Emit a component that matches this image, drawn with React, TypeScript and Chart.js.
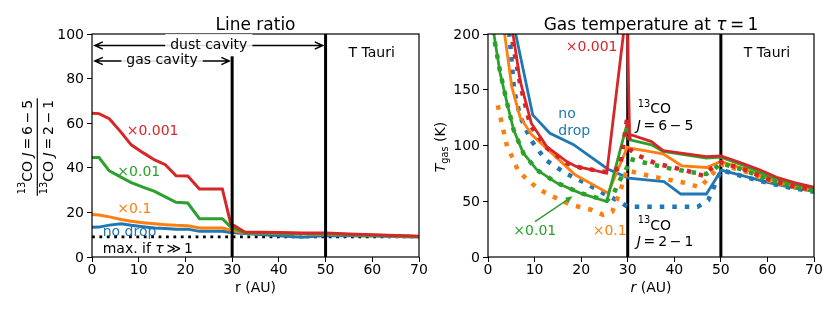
import React, { useEffect, useRef } from 'react';
import { Chart, registerables } from 'chart.js';

Chart.register(...registerables);

const FONT = "'DejaVu Sans', sans-serif";
const BLUE = '#1f77b4';
const ORANGE = '#ff7f0e';
const GREEN = '#2ca02c';
const RED = '#d62728';

// ---------- Left panel: line ratio 13CO 6-5 / 2-1 ----------
const ratioR = [0, 1.5, 3.7, 6.2, 8.4, 10.9, 13.4, 15.7, 18, 20.5, 23, 27.9, 29.7, 32.7, 40, 45, 50, 55, 60, 65, 70];
const ratioNoDrop = [13.3, 13.4, 14.3, 14.9, 14.2, 13.6, 13.0, 12.8, 12.5, 12.5, 11.5, 11.5, 11.0, 10.5, 9.5, 8.9, 9.6, 9.5, 9.4, 9.2, 9.0];
const ratioX01 = [19.1, 18.8, 18.0, 16.8, 16.0, 15.4, 14.9, 14.5, 14.2, 14.0, 13.0, 13.0, 12.0, 10.9, 10.5, 10.3, 10.2, 10.0, 9.7, 9.4, 9.2];
const ratioX001 = [44.6, 44.6, 38.6, 35.8, 33.4, 31.3, 29.4, 27.0, 24.5, 24.2, 17.2, 17.2, 13.5, 10.9, 10.6, 10.5, 10.4, 10.1, 9.8, 9.5, 9.2];
const ratioX0001 = [64.5, 64.3, 62.0, 56.0, 50.3, 46.8, 43.5, 41.4, 36.4, 36.3, 30.5, 30.5, 15.0, 11.2, 11.0, 10.8, 10.8, 10.3, 10.0, 9.6, 9.3];
const maxThickR = [0, 70];
const maxThick = [9, 9];

// ---------- Right panel: gas temperature at tau = 1 ----------
// solid: 13CO J=6-5, dotted: 13CO J=2-1
const t65NoDropR = [4.5, 6.0, 9.6, 13.3, 18.3, 25.7, 30.2, 37.8, 41.4, 46.9, 50.1, 55, 60, 65, 70];
const t65NoDrop = [300, 199, 127.5, 111, 101, 79, 70.8, 67.7, 56.5, 56.5, 78, 72.5, 67, 62.5, 58.8];
const t65X01R = [2.8, 3.6, 5.1, 6.9, 9.4, 14.1, 18.7, 25.8, 29.9, 30.5, 37.6, 41.6, 46.9, 50, 55, 60, 65, 70];
const t65X01 = [260, 199, 152.8, 125.4, 109.5, 91.6, 73.7, 57.3, 98.5, 97.6, 92.5, 81.8, 80.3, 85.6, 79, 70.5, 64.5, 60.5];
const t65X001R = [0.9, 1.3, 2.6, 4.1, 5.5, 7.6, 10.5, 14.8, 19.8, 25.5, 29.8, 30.5, 35.1, 37.6, 46.9, 50, 55, 60, 65, 70];
const t65X001 = [260, 199, 165, 137.9, 114, 93.1, 78.2, 66.3, 57.3, 49.8, 118.5, 105, 100.6, 94.6, 88.7, 89.5, 82, 73, 66, 61.5];
const t65X0001R = [4.6, 5.4, 6.9, 9.3, 12.6, 16.9, 18.9, 25.5, 29.8, 30.4, 35.1, 37.6, 46.9, 50, 54, 58.3, 62, 66, 70];
const t65X0001 = [260, 199, 158, 120, 99, 85.6, 81.2, 75.2, 225, 110, 103.5, 95.5, 90, 90.7, 85, 78.2, 71.5, 66.5, 62.5];

const t21NoDropR = [3.8, 4.6, 5.6, 6.9, 9.2, 12.4, 16.7, 21, 25.3, 28.1, 30, 45, 47.3, 50.1, 55, 60, 65, 70];
const t21NoDrop = [280, 199, 149.8, 126, 105, 87, 75, 66, 56, 50, 45, 45, 51, 78, 72, 66.5, 62, 58.5];
const t21X01R = [2.1, 4.1, 5.5, 6.5, 8.5, 10.6, 13.1, 17.8, 22.1, 24.7, 26.7, 28.5, 29.8, 30.5, 35.5, 42.6, 45.5, 48.3, 50, 55, 60, 65, 70];
const t21X01 = [136, 99, 87, 77, 69.2, 61.8, 55.8, 46.8, 42.4, 37.9, 40.8, 60.3, 78, 77, 72, 66.3, 62.5, 75, 83, 77, 69, 63.5, 59.5];
const t21X001R = [0.8, 1.2, 2.6, 4.1, 5.5, 7.6, 10.5, 14.8, 19.8, 25.5, 27, 28, 29.8, 30.5, 31.9, 35.5, 39, 43.7, 46.9, 48.5, 50, 55, 60, 65, 70];
const t21X001 = [260, 199, 166, 138, 114, 93, 78, 66.5, 57.5, 50.5, 57, 66.5, 80, 88, 86.3, 82.7, 79.5, 76, 74.5, 78.5, 84, 78, 69.5, 63.5, 59.5];
const t21X0001R = [4.2, 5.0, 6.9, 9.1, 12.6, 16.9, 20, 25.5, 28.3, 29.9, 30.6, 32, 36, 40, 43, 46.2, 48.7, 50, 55, 60, 65, 70];
const t21X0001 = [260, 199, 155, 118, 98, 84, 80, 76, 79.7, 125, 96, 91.5, 84, 80, 77, 73, 82, 85, 78.5, 70, 64, 60];

const xTicksStep = 10;

// ---------- text helpers ----------
type Seg = { t: string; it?: boolean; sup?: boolean; sub?: boolean };

function segFont(size: number, s: Seg) {
  const sz = s.sup || s.sub ? size * 0.7 : size;
  return `${s.it ? 'italic ' : ''}${sz}px ${FONT}`;
}
function measureRich(ctx: CanvasRenderingContext2D, segs: Seg[], size: number) {
  let w = 0;
  for (const s of segs) {
    ctx.font = segFont(size, s);
    w += ctx.measureText(s.t).width;
  }
  return w;
}
function drawRich(
  ctx: CanvasRenderingContext2D,
  segs: Seg[],
  x: number,
  y: number,
  size: number,
  color: string,
  align: 'left' | 'center' = 'left'
) {
  const w = measureRich(ctx, segs, size);
  let cx = align === 'center' ? x - w / 2 : x;
  ctx.fillStyle = color;
  ctx.textAlign = 'left';
  ctx.textBaseline = 'alphabetic';
  for (const s of segs) {
    ctx.font = segFont(size, s);
    const dy = s.sup ? -0.47 * size : s.sub ? 0.22 * size : 0;
    ctx.fillText(s.t, cx, y + dy);
    cx += ctx.measureText(s.t).width;
  }
  return w;
}
const T = (t: string): Seg => ({ t });
const I = (t: string): Seg => ({ t, it: true });
const SUP = (t: string): Seg => ({ t, sup: true });
const SUB = (t: string): Seg => ({ t, sub: true });
const TH = '\u2009';

function pts(xs: number[], ys: number[]) {
  return xs.map((x, i) => ({ x, y: ys[i] }));
}
function solid(xs: number[], ys: number[], color: string, order: number, width = 2.8) {
  return {
    data: pts(xs, ys),
    borderColor: color,
    borderWidth: width,
    pointRadius: 0,
    tension: 0,
    fill: false,
    clip: 0,
    order,
  };
}
function dotted(xs: number[], ys: number[], color: string, order: number, width = 4.5, dash = [4.5, 8]) {
  return { ...solid(xs, ys, color, order, width), borderDash: dash, borderCapStyle: 'butt' };
}

function scaleCfg(min: number, max: number, step: number, isY: boolean, size: number) {
  return {
    type: 'linear',
    min,
    max,
    ticks: {
      stepSize: step,
      color: '#000',
      font: { family: FONT, size: 14 },
      padding: isY ? 3 : 0,
      maxRotation: 0,
      autoSkip: false,
      labelOffset: isY ? 1 : 0,
    },
    grid: {
      display: true,
      drawOnChartArea: false,
      drawTicks: true,
      tickLength: 5,
      tickWidth: 1,
      tickColor: '#000',
    },
    border: { display: false },
    afterFit: (s: any) => {
      if (isY) s.width = size;
      else s.height = size;
    },
  };
}

function drawSpines(ctx: CanvasRenderingContext2D, a: any) {
  ctx.save();
  ctx.strokeStyle = '#000';
  ctx.lineWidth = 1.2;
  ctx.strokeRect(a.left, a.top, a.right - a.left, a.bottom - a.top);
  ctx.restore();
}

function vline(chart: any, xv: number, y0: number, y1: number) {
  const { ctx, scales } = chart;
  const x = scales.x.getPixelForValue(xv);
  ctx.save();
  ctx.strokeStyle = '#000';
  ctx.lineWidth = 3;
  ctx.beginPath();
  ctx.moveTo(x, scales.y.getPixelForValue(y0));
  ctx.lineTo(x, scales.y.getPixelForValue(y1));
  ctx.stroke();
  ctx.restore();
}

function doubleArrow(ctx: CanvasRenderingContext2D, x1: number, x2: number, y: number) {
  const hl = 8;
  const hw = 3.6;
  ctx.save();
  ctx.strokeStyle = '#000';
  ctx.lineWidth = 1.4;
  ctx.beginPath();
  ctx.moveTo(x1, y);
  ctx.lineTo(x2, y);
  ctx.moveTo(x1 + hl, y - hw);
  ctx.lineTo(x1, y);
  ctx.lineTo(x1 + hl, y + hw);
  ctx.moveTo(x2 - hl, y - hw);
  ctx.lineTo(x2, y);
  ctx.lineTo(x2 - hl, y + hw);
  ctx.stroke();
  ctx.restore();
}

function boxedText(ctx: CanvasRenderingContext2D, text: string, cx: number, base: number, top: number, bottom: number) {
  ctx.save();
  ctx.font = `14px ${FONT}`;
  const w = ctx.measureText(text).width;
  ctx.fillStyle = 'rgba(255,255,255,0.85)';
  ctx.fillRect(cx - w / 2 - 5, top, w + 10, bottom - top);
  ctx.restore();
  drawRich(ctx, [T(text)], cx, base, 14, '#000', 'center');
}

// ---------- left chart ----------
function leftConfig(): any {
  const deco = {
    id: 'decoLeft',
    beforeDatasetsDraw(chart: any) {
      const ctx = chart.ctx as CanvasRenderingContext2D;
      ctx.save();
      drawRich(ctx, [T('×0.001')], 126.7, 135, 14, RED);
      drawRich(ctx, [T('×0.01')], 117.3, 175.7, 14, GREEN);
      drawRich(ctx, [T('×0.1')], 117.3, 213.3, 14, ORANGE);
      drawRich(ctx, [T('no drop')], 102.7, 236, 14, BLUE);
      drawRich(ctx, [T('max. if '), I('τ'), T(TH + '≫' + TH + '1')], 102.7, 252.5, 14, '#000');
      drawRich(ctx, [T('T Tauri')], 371.7, 56.7, 14, '#000', 'center');
      ctx.restore();
    },
    afterDatasetsDraw(chart: any) {
      const ctx = chart.ctx as CanvasRenderingContext2D;
      const a = chart.chartArea;
      const xs = chart.scales.x;
      vline(chart, 30, 0, 90);
      vline(chart, 50, 0, 100);
      drawSpines(ctx, a);
      // dust cavity
      doubleArrow(ctx, xs.getPixelForValue(0) + 2.8, xs.getPixelForValue(50) - 2.8, 45.5);
      boxedText(ctx, 'dust cavity', xs.getPixelForValue(25), 48.7, 34, 56);
      // gas cavity
      doubleArrow(ctx, xs.getPixelForValue(0) + 2.8, xs.getPixelForValue(30) - 2.8, 61);
      boxedText(ctx, 'gas cavity', xs.getPixelForValue(15), 64, 53, 70);
    },
    afterDraw(chart: any) {
      const ctx = chart.ctx as CanvasRenderingContext2D;
      const a = chart.chartArea;
      const cx = (a.left + a.right) / 2;
      drawRich(ctx, [T('Line ratio')], cx, 30, 17, '#000', 'center');
      drawRich(ctx, [T('r (AU)')], cx, 292.3, 14, '#000', 'center');
      // fraction y label
      ctx.save();
      ctx.translate(36.7, 147);
      ctx.rotate(-Math.PI / 2);
      const num: Seg[] = [SUP('13'), T('CO '), I('J'), T(TH + '=' + TH + '6' + TH + '−' + TH + '5')];
      const den: Seg[] = [SUP('13'), T('CO '), I('J'), T(TH + '=' + TH + '2' + TH + '−' + TH + '1')];
      const w = drawRich(ctx, num, 0, -5, 14, '#000', 'center');
      drawRich(ctx, den, 0, 16.6, 14, '#000', 'center');
      ctx.strokeStyle = '#000';
      ctx.lineWidth = 1.2;
      ctx.beginPath();
      ctx.moveTo(-w / 2 - 1.5, 0.6);
      ctx.lineTo(w / 2 + 1.5, 0.6);
      ctx.stroke();
      ctx.restore();
    },
  };
  return {
    type: 'line',
    data: {
      datasets: [
        solid(ratioR, ratioX0001, RED, 0, 3),
        solid(ratioR, ratioX001, GREEN, 1, 3),
        solid(ratioR, ratioX01, ORANGE, 2, 3),
        solid(ratioR, ratioNoDrop, BLUE, 3, 3),
        dotted(maxThickR, maxThick, '#000', 4, 2.8, [2.8, 4.6]),
      ],
    },
    options: {
      responsive: false,
      animation: false,
      devicePixelRatio: 1,
      events: [],
      layout: { padding: { top: 34, left: 0, right: 21, bottom: 0 } },
      plugins: { legend: { display: false }, tooltip: { enabled: false }, title: { display: false } },
      scales: {
        x: scaleCfg(0, 70, xTicksStep, false, 54),
        y: scaleCfg(0, 100, 20, true, 92),
      },
    },
    plugins: [deco],
  };
}

// ---------- right chart ----------
function rightConfig(): any {
  const deco = {
    id: 'decoRight',
    beforeDatasetsDraw(chart: any) {
      const ctx = chart.ctx as CanvasRenderingContext2D;
      vline(chart, 30, 0, 200);
      vline(chart, 50, 0, 200);
      drawRich(ctx, [T('×0.001')], 145.7, 50.7, 14, RED);
      drawRich(ctx, [T('no')], 138.3, 118, 14, BLUE);
      drawRich(ctx, [T('drop')], 138.3, 134.5, 14, BLUE);
      drawRich(ctx, [T('×0.01')], 93.3, 235, 14, GREEN);
      drawRich(ctx, [T('×0.1')], 172.7, 235, 14, ORANGE);
      drawRich(ctx, [SUP('13'), T('CO')], 217.8, 113.3, 14, '#000');
      drawRich(ctx, [I('J'), T(TH + '=' + TH + '6' + TH + '−' + TH + '5')], 216.7, 129.5, 14, '#000');
      drawRich(ctx, [SUP('13'), T('CO')], 217.8, 230, 14, '#000');
      drawRich(ctx, [I('J'), T(TH + '=' + TH + '2' + TH + '−' + TH + '1')], 216.7, 246, 14, '#000');
      drawRich(ctx, [T('T Tauri')], 347, 56.7, 14, '#000', 'center');
    },
    afterDatasetsDraw(chart: any) {
      const ctx = chart.ctx as CanvasRenderingContext2D;
      drawSpines(ctx, chart.chartArea);
      // green arrow
      const x1 = 115, y1 = 221.7, x2 = 152.5, y2 = 196.3;
      const ang = Math.atan2(y2 - y1, x2 - x1);
      ctx.save();
      ctx.strokeStyle = GREEN;
      ctx.fillStyle = GREEN;
      ctx.lineWidth = 1.4;
      ctx.beginPath();
      ctx.moveTo(x1, y1);
      ctx.lineTo(x2 - 5 * Math.cos(ang), y2 - 5 * Math.sin(ang));
      ctx.stroke();
      const hl = 7, hw = 3;
      ctx.beginPath();
      ctx.moveTo(x2, y2);
      ctx.lineTo(x2 - hl * Math.cos(ang) + hw * Math.sin(ang), y2 - hl * Math.sin(ang) - hw * Math.cos(ang));
      ctx.lineTo(x2 - hl * Math.cos(ang) - hw * Math.sin(ang), y2 - hl * Math.sin(ang) + hw * Math.cos(ang));
      ctx.closePath();
      ctx.fill();
      ctx.restore();
    },
    afterDraw(chart: any) {
      const ctx = chart.ctx as CanvasRenderingContext2D;
      const a = chart.chartArea;
      const cx = (a.left + a.right) / 2;
      drawRich(ctx, [T('Gas temperature at '), I('τ'), T(TH + '=' + TH + '1')], cx, 30, 17, '#000', 'center');
      drawRich(ctx, [I('r'), T(' (AU)')], cx, 292.3, 14, '#000', 'center');
      ctx.save();
      ctx.translate(25, 147);
      ctx.rotate(-Math.PI / 2);
      drawRich(ctx, [I('T'), SUB('gas'), T(' (K)')], 0, 0, 14, '#000', 'center');
      ctx.restore();
    },
  };
  return {
    type: 'line',
    data: {
      datasets: [
        dotted(t21X0001R, t21X0001, RED, 0),
        solid(t65X0001R, t65X0001, RED, 1),
        dotted(t21X001R, t21X001, GREEN, 2),
        solid(t65X001R, t65X001, GREEN, 3),
        dotted(t21X01R, t21X01, ORANGE, 4),
        solid(t65X01R, t65X01, ORANGE, 5),
        dotted(t21NoDropR, t21NoDrop, BLUE, 6),
        solid(t65NoDropR, t65NoDrop, BLUE, 7),
      ],
    },
    options: {
      responsive: false,
      animation: false,
      devicePixelRatio: 1,
      events: [],
      layout: { padding: { top: 34, left: 0, right: 16, bottom: 0 } },
      plugins: { legend: { display: false }, tooltip: { enabled: false }, title: { display: false } },
      scales: {
        x: scaleCfg(0, 70, xTicksStep, false, 54),
        y: scaleCfg(0, 200, 50, true, 68),
      },
    },
    plugins: [deco],
  };
}

export default function App() {
  const leftRef = useRef<HTMLCanvasElement>(null);
  const rightRef = useRef<HTMLCanvasElement>(null);
  useEffect(() => {
    const c1 = new Chart(leftRef.current as HTMLCanvasElement, leftConfig());
    const c2 = new Chart(rightRef.current as HTMLCanvasElement, rightConfig());
    return () => {
      c1.destroy();
      c2.destroy();
    };
  }, []);
  return (
    <div
      style={{
        position: 'absolute',
        left: 0,
        top: 0,
        width: 830,
        height: 311,
        background: '#fff',
        overflow: 'hidden',
      }}
    >
      <canvas
        ref={rightRef}
        width={410}
        height={311}
        style={{ position: 'absolute', left: 420, top: 0, width: 410, height: 311 }}
      />
      <canvas
        ref={leftRef}
        width={440}
        height={311}
        style={{ position: 'absolute', left: 0, top: 0, width: 440, height: 311 }}
      />
    </div>
  );
}
